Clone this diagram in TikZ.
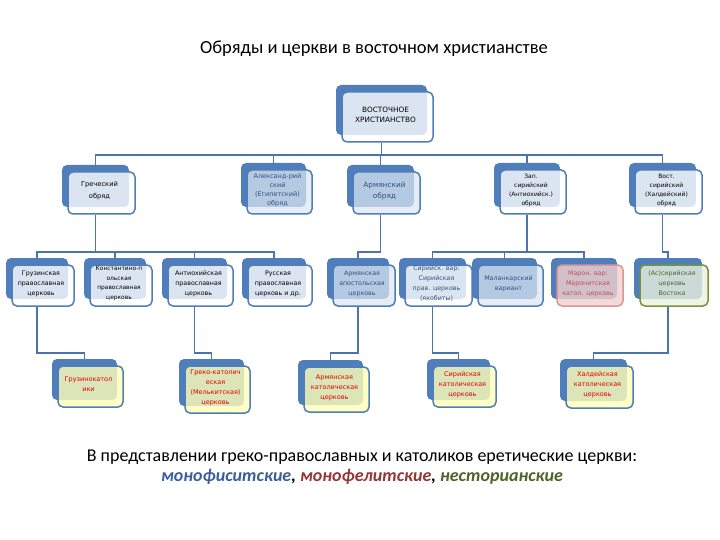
\documentclass[tikz,border=0pt]{standalone}
\usepackage{fontspec}
\setmainfont{Carlito}
\newfontfamily\boxfont{DejaVu Sans}
\usetikzlibrary{calc}
\pgfdeclarelayer{background}
\pgfsetlayers{background,main}
\definecolor{bblue}{HTML}{4F7EBB}
\definecolor{lnblue}{HTML}{4A74AC}
\definecolor{tintblue}{HTML}{DCE6F2}
\definecolor{ylw}{HTML}{FFFFB8}
\definecolor{pinkf}{HTML}{F2D0CE}
\definecolor{pinkd}{HTML}{D99694}
\definecolor{pinkt}{HTML}{C0504D}
\definecolor{greenf}{HTML}{EBF1DE}
\definecolor{greend}{HTML}{77933C}
\definecolor{greent}{HTML}{4F6228}
\definecolor{redt}{HTML}{E00000}
\definecolor{tintt}{HTML}{34527E}
\definecolor{monoB}{HTML}{3A5F9A}
\definecolor{monoR}{HTML}{943634}
\definecolor{monoG}{HTML}{4F6228}
\tikzset{
  backbox/.style={fill=bblue, rounded corners=5, inner sep=0},
  frontw/.style={fill=white, fill opacity=0.8, draw=bblue, line width=1.5, rounded corners=5, inner sep=0},
  frontb/.style={frontw, fill=tintblue, fill opacity=0.72},
  fronty/.style={frontw, fill=ylw, fill opacity=0.8},
  frontp/.style={frontw, fill=pinkf, draw=pinkd},
  frontg/.style={frontw, fill=greenf, draw=greend},
  boxtext/.style={font=\boxfont, align=center, inner sep=0},
  conn/.style={draw=lnblue, line width=1.6},
}
\newcommand\mkbox[8]{%
  \pgfmathsetmacro\bw{#4-#2}\pgfmathsetmacro\bh{#5-#3}%
  \node[backbox, minimum width=\bw, minimum height=\bh] (#1) at ({(#2+#4)/2-6},{(#3+#5)/2-7}) {};
  \node[#6, minimum width=\bw, minimum height=\bh] (#1f) at ({(#2+#4)/2},{(#3+#5)/2}) {};
  \node[boxtext,#7] (#1t) at ({(#2+#4)/2-2},{(#3+#5)/2-2}) {#8};
}
\begin{document}
\begin{tikzpicture}[x=1pt,y=-1pt]
\useasboundingbox (0,0) rectangle (720,540);
\node[font=\fontsize{18.5}{22}\selectfont] (title) at (374,49) {Обряды и церкви в восточном христианстве};

% level 0
\mkbox{root}{342}{92}{433}{142}{frontw}{font=\boxfont\fontsize{7.3}{9.5}\selectfont}{ВОСТОЧНОЕ\\ХРИСТИАНСТВО}
% level 1
\mkbox{grec}{68}{172}{135}{214}{frontw}{font=\boxfont\fontsize{6.7}{12}\selectfont}{Греческий\\обряд}
\mkbox{alex}{247}{170}{312}{214}{frontb}{font=\boxfont\fontsize{6.5}{9}\selectfont,text=tintt}{Александ-рий\\ский\\(Египетский)\\обряд}
\mkbox{arm}{353}{172}{420}{214}{frontb}{font=\boxfont\fontsize{7.3}{11}\selectfont,text=tintt}{Армянский\\обряд}
\mkbox{zap}{500}{170}{566}{214}{frontw}{font=\boxfont\fontsize{6}{9}\selectfont}{Зап.\\сирийский\\(Антиохийск.)\\обряд}
\mkbox{vost}{635}{170}{702}{214}{frontw}{font=\boxfont\fontsize{6}{9}\selectfont}{Вост.\\сирийский\\(Халдейский)\\обряд}
% level 2
\mkbox{gruz}{12}{265}{74}{306}{frontw}{font=\boxfont\fontsize{6.3}{10}\selectfont}{Грузинская\\православная\\церковь}
\mkbox{konst}{90}{265}{152}{306}{frontw}{font=\boxfont\fontsize{5.9}{9.5}\selectfont}{Константино-п\\ольская\\православная\\церковь}
\mkbox{antio}{168}{265}{233}{306}{frontw}{font=\boxfont\fontsize{6.3}{10}\selectfont}{Антиохийская\\православная\\церковь}
\mkbox{russ}{248}{265}{312}{306}{frontw}{font=\boxfont\fontsize{6.3}{10}\selectfont}{Русская\\православная\\церковь и др.}
\mkbox{armap}{333}{265}{395}{306}{frontb}{font=\boxfont\fontsize{6.3}{10}\selectfont,text=tintt}{Армянская\\апостольская\\церковь}
\mkbox{sirv}{405}{265}{472}{306}{frontw}{font=\boxfont\fontsize{6.3}{10}\selectfont,text=tintt}{Сирийск. вар:\\Сирийская\\прав. церковь\\(якобиты)}
\mkbox{malank}{478}{265}{543}{306}{frontb}{font=\boxfont\fontsize{6.3}{10}\selectfont,text=tintt}{Маланкарский\\вариант}
\mkbox{maron}{557}{265}{623}{306}{frontp}{font=\boxfont\fontsize{6.3}{10}\selectfont,text=pinkt}{Марон. вар:\\Маронитская\\катол. церковь}
\mkbox{assyr}{640}{265}{708}{306}{frontg}{font=\boxfont\fontsize{6.3}{10}\selectfont,text=greent}{(Ас)сирийская\\церковь\\Востока}
% level 3
\mkbox{gruzk}{58}{366}{123}{407}{fronty}{font=\boxfont\fontsize{6.5}{10}\selectfont,text=redt}{Грузинокатол\\ики}
\mkbox{grekok}{185}{366}{250}{413}{fronty}{font=\boxfont\fontsize{6.5}{10}\selectfont,text=redt}{Греко-католич\\еская\\(Мелькитская)\\церковь}
\mkbox{armkat}{304}{367}{369}{412}{fronty}{font=\boxfont\fontsize{6.5}{10}\selectfont,text=redt}{Армянская\\католическая\\церковь}
\mkbox{sirkat}{433}{366}{496}{407}{fronty}{font=\boxfont\fontsize{6.5}{10}\selectfont,text=redt}{Сирийская\\католическая\\церковь}
\mkbox{khald}{566}{366}{633}{408}{fronty}{font=\boxfont\fontsize{6.5}{10}\selectfont,text=redt}{Халдейская\\католическая\\церковь}

\coordinate (lv1) at (0,155);
\coordinate (lv2) at (0,252);
\coordinate (lv3) at (0,353);
\begin{pgfonlayer}{background}
\foreach \c in {grec,alex,arm,zap,vost}
  \draw[conn] (rootf.south -| root) -- (root |- lv1) -| (\c.north);
\foreach \c in {gruz,konst,antio,russ}
  \draw[conn] (grecf.south -| grec) -- (grec |- lv2) -| (\c.north);
\draw[conn] (armf.south -| arm) -- (arm |- lv2) -| (armap.north);
\foreach \c in {sirv,malank,maron}
  \draw[conn] (zapf.south -| zap) -- (zap |- lv2) -| (\c.north);
\draw[conn] (vostf.south -| vost) -- (vost |- lv2) -| (assyr.north);
\draw[conn] (gruzf.south -| gruz) -- (gruz |- lv3) -| (gruzk.north);
\draw[conn] (antiof.south -| antio) -- (antio |- lv3) -| (grekok.north);
\draw[conn] (armapf.south -| armap) -- (armap |- lv3) -| (armkat.north);
\draw[conn] (sirvf.south -| sirv) -- (sirv |- lv3) -| (sirkat.north);
\draw[conn] (assyrf.south -| assyr) -- (assyr |- lv3) -| (khald.north);
\end{pgfonlayer}

\node[font=\fontsize{18}{21}\selectfont] (note1) at (362,457) {В представлении греко-православных и католиков еретические церкви:};
\node[font=\fontsize{18}{21}\selectfont\bfseries\itshape] (note2) at (362,477) {\textcolor{monoB}{монофиситские}, \textcolor{monoR}{монофелитские}, \textcolor{monoG}{несторианские}};
\end{tikzpicture}
\end{document}
